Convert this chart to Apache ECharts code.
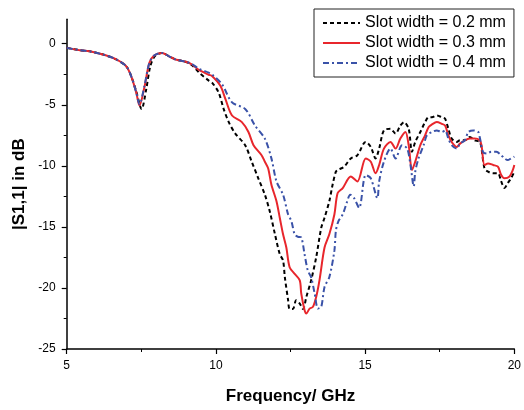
<!DOCTYPE html>
<html>
<head>
<meta charset="utf-8">
<script src="https://cdn.jsdelivr.net/npm/echarts@6/dist/echarts.min.js"></script>
<style>html,body{margin:0;padding:0;background:#fff;}#c{width:524px;height:410px;}</style>
</head>
<body>
<div id="c"></div>
<script>
const seriesNames = ['Slot width = 0.2 mm', 'Slot width = 0.3 mm', 'Slot width = 0.4 mm'];
const xTicks = [5, 10, 15, 20];
const yTicks = [-25, -20, -15, -10, -5, 0];
const yMinorTicks = [-22.5, -17.5, -12.5, -7.5, -2.5];

const freq02 = [5,5.44,5.88,6.33,6.66,6.99,7.16,7.33,7.51,7.66,7.8,7.95,8.19,8.43,8.65,8.99,9.2,9.43,9.76,9.87,10.09,10.26,10.43,10.65,10.98,11.2,11.42,11.64,11.81,11.98,12.14,12.25,12.31,12.42,12.47,12.58,12.69,12.81,12.92,13.03,13.19,13.36,13.53,13.64,13.8,13.91,14.02,14.08,14.3,14.52,14.74,15.02,15.19,15.35,15.47,15.63,15.85,16.02,16.18,16.3,16.46,16.57,16.68,16.85,17.01,17.13,17.24,17.4,17.57,17.68,17.79,17.9,18.07,18.18,18.34,18.51,18.67,18.84,18.9,19.0,19.12,19.29,19.45,19.56,19.67,19.78,19.89,20.0];
const s11_02 = [-0.34,-0.53,-0.67,-0.97,-1.29,-1.83,-2.65,-3.9,-5.35,-3.8,-1.86,-1.04,-0.75,-1.03,-1.29,-1.48,-1.76,-2.35,-3.02,-3.18,-3.99,-5.34,-6.42,-7.36,-8.31,-9.66,-11.02,-12.36,-13.78,-15.62,-17.23,-17.76,-19.12,-21.01,-21.73,-21.73,-21.01,-21.28,-21.73,-20.74,-19.38,-17.5,-15.07,-14.25,-12.9,-11.55,-10.48,-10.34,-10.07,-9.39,-9.13,-8.04,-8.45,-9.39,-8.59,-7.1,-6.97,-7.36,-6.7,-6.42,-6.97,-8.85,-8.04,-7.23,-6.42,-6.02,-6.02,-5.88,-6.02,-6.15,-6.97,-7.77,-8.04,-7.91,-7.91,-7.64,-7.91,-8.04,-8.59,-10.2,-10.48,-10.61,-10.61,-11.28,-11.82,-11.42,-11.02,-10.49];

const freq03 = [5,5.44,5.88,6.33,6.66,6.99,7.16,7.33,7.44,7.6,7.77,7.93,8.19,8.43,8.65,8.99,9.2,9.43,9.76,9.87,10.15,10.32,10.54,10.87,11.09,11.26,11.53,11.64,11.75,11.86,12.03,12.14,12.25,12.36,12.47,12.64,12.81,12.86,12.97,13.03,13.14,13.25,13.36,13.47,13.64,13.8,13.97,14.08,14.25,14.52,14.74,15.02,15.19,15.35,15.47,15.63,15.85,16.02,16.18,16.35,16.46,16.57,16.68,16.85,17.01,17.13,17.24,17.4,17.57,17.68,17.79,17.9,18.07,18.18,18.34,18.51,18.67,18.84,18.9,19.0,19.12,19.29,19.45,19.56,19.67,19.84,19.95,20.0];
const s11_03 = [-0.34,-0.53,-0.67,-0.97,-1.29,-1.83,-2.65,-3.99,-5.06,-3.61,-1.57,-0.97,-0.75,-1.03,-1.29,-1.48,-1.70,-2.15,-2.54,-2.65,-3.45,-4.54,-5.88,-6.42,-7.23,-8.31,-9.13,-9.66,-10.2,-11.55,-12.9,-14.25,-15.61,-16.69,-18.31,-18.85,-19.38,-20.47,-21.81,-22.09,-21.69,-21.55,-20.74,-19.38,-16.69,-15.61,-13.98,-12.23,-11.82,-10.87,-11.28,-9.39,-9.66,-10.61,-9.93,-8.59,-8.04,-8.59,-7.77,-7.23,-8.31,-10.34,-9.66,-8.31,-7.5,-6.82,-6.61,-6.42,-6.56,-6.7,-7.5,-8.04,-8.45,-8.18,-7.91,-7.77,-7.77,-7.91,-8.31,-9.93,-9.8,-9.93,-10.07,-10.75,-11.02,-10.87,-10.34,-9.93];

const freq04 = [5,5.44,5.88,6.33,6.66,6.99,7.16,7.33,7.44,7.6,7.77,7.93,8.19,8.43,8.65,8.99,9.2,9.43,9.76,9.87,10.2,10.54,10.98,11.31,11.64,11.86,12.03,12.25,12.42,12.53,12.64,12.75,12.86,12.97,13.08,13.19,13.31,13.42,13.53,13.64,13.8,13.97,14.02,14.1,14.25,14.4,14.5,14.63,14.8,15.02,15.19,15.41,15.47,15.63,15.85,16.02,16.24,16.41,16.52,16.63,16.68,16.79,16.96,17.07,17.24,17.4,17.57,17.68,17.79,17.9,18.07,18.18,18.34,18.46,18.62,18.79,18.84,18.95,19.07,19.23,19.4,19.56,19.67,19.78,19.89,20.0];
const s11_04 = [-0.34,-0.53,-0.67,-0.97,-1.29,-1.83,-2.65,-3.99,-4.96,-3.51,-1.57,-0.97,-0.75,-1.03,-1.29,-1.48,-1.67,-2.05,-2.37,-2.51,-3.31,-4.8,-5.34,-6.7,-7.77,-9.39,-11.28,-12.36,-13.98,-14.53,-15.61,-15.81,-15.87,-17.23,-18.58,-19.12,-20.47,-21.69,-21.55,-19.92,-19.12,-16.95,-15.33,-14.56,-13.97,-12.91,-12.36,-12.64,-13.44,-10.75,-11.02,-12.64,-11.28,-9.66,-8.59,-9.39,-8.31,-8.59,-9.93,-11.69,-10.48,-9.39,-8.31,-7.5,-7.23,-7.1,-7.23,-7.1,-7.77,-8.31,-8.59,-8.18,-7.91,-7.23,-7.1,-7.23,-7.64,-8.85,-8.99,-8.85,-8.85,-9.13,-9.39,-9.53,-9.39,-9.25];

const zip = (xs, ys) => xs.map((x, i) => [x, ys[i]]);
const FONT = 'Liberation Sans, Arial, sans-serif';

const chart = echarts.init(document.getElementById('c'), null, {renderer: 'canvas'});
const option = {
  backgroundColor: '#fff',
  animation: false,
  grid: {left: 66.7, right: 6, top: 19.3, bottom: 57.5, containLabel: false},
  legend: {
    orient: 'vertical', left: 314, top: 9,
    padding: [6, 8, 6, 8], itemGap: 4, itemWidth: 37, itemHeight: 14,
    borderColor: '#222', borderWidth: 1, backgroundColor: '#fff',
    itemStyle: {opacity: 0, color: 'transparent', borderColor: 'transparent', borderWidth: 0},
    textStyle: {fontFamily: FONT, fontSize: 16, color: '#000'},
    data: seriesNames
  },
  xAxis: {
    type: 'value', min: 5, max: 20, interval: 5,
    name: 'Frequency/ GHz', nameLocation: 'middle', nameGap: 39,
    nameTextStyle: {fontFamily: FONT, fontSize: 17, fontWeight: 'bold', color: '#000'},
    axisLine: {onZero: false, lineStyle: {color: '#000', width: 1.5}},
    axisTick: {show: true, inside: false, length: 5, lineStyle: {color: '#000', width: 1.2}, customValues: xTicks},
    minorTick: {show: true, splitNumber: 2, length: 3, lineStyle: {color: '#000', width: 1}},
    axisLabel: {fontFamily: FONT, fontSize: 12, color: '#000', margin: 11, customValues: xTicks},
    splitLine: {show: false}
  },
  yAxis: [{
    type: 'value', min: -25, max: 2, interval: 5,
    name: '|S1,1| in dB', nameLocation: 'middle', nameGap: 35, nameRotate: 90,
    nameTextStyle: {fontFamily: FONT, fontSize: 17, fontWeight: 'bold', color: '#000'},
    axisLine: {show: true, onZero: false, lineStyle: {color: '#000', width: 1.5}},
    axisTick: {show: true, inside: false, length: 5, lineStyle: {color: '#000', width: 1.2}, customValues: yTicks},
    axisLabel: {fontFamily: FONT, fontSize: 12, color: '#000', margin: 11, customValues: yTicks},
    splitLine: {show: false}
  }, {
    type: 'value', min: -25, max: 2, position: 'left',
    axisLine: {show: false, onZero: false},
    axisTick: {show: true, inside: false, length: 3, lineStyle: {color: '#000', width: 1}, customValues: yMinorTicks},
    axisLabel: {show: false},
    splitLine: {show: false}
  }],
  series: [
    {name: seriesNames[0], type: 'line', data: zip(freq02, s11_02), showSymbol: false, symbol: 'none', smooth: 0.3,
     lineStyle: {color: '#000', width: 2, type: [4, 3]}, itemStyle: {color: '#000'}},
    {name: seriesNames[1], type: 'line', data: zip(freq03, s11_03), showSymbol: false, symbol: 'none', smooth: 0.3,
     lineStyle: {color: '#e8262c', width: 2, type: 'solid'}, itemStyle: {color: '#e8262c'}},
    {name: seriesNames[2], type: 'line', data: zip(freq04, s11_04), showSymbol: false, symbol: 'none', smooth: 0.3,
     lineStyle: {color: '#3a52a8', width: 2, type: [6, 3, 2, 3]}, itemStyle: {color: '#3a52a8'}}
  ]
};
chart.setOption(option);
</script>
</body>
</html>
